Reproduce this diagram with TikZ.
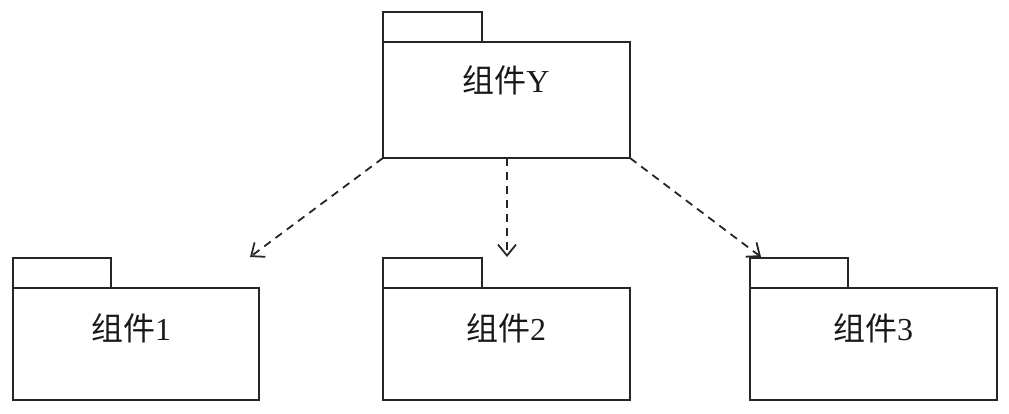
\documentclass[tikz,border=0pt]{standalone}
\usepackage{fontspec}
\setmainfont{Liberation Serif}
\newfontfamily\cjk{Noto Sans CJK SC}
\usetikzlibrary{arrows.meta}
\begin{document}
\begin{tikzpicture}[x=1pt,y=-1pt,
  pkgline/.style={draw=black!85,line width=1.8pt},
  pkglabel/.style={font=\fontsize{32}{34}\selectfont,text=black!90,inner sep=0pt,anchor=center},
  dep/.style={draw=black!85,line width=1.8pt,dash pattern=on 8pt off 6pt,
    -{Straight Barb[length=11pt,width=18pt,line width=1.8pt]}}]
\useasboundingbox (0,0) rectangle (1009,413);
% top package Y
\draw[pkgline] (383,42) rectangle (482,12);
\draw[pkgline] (383,42) rectangle (630,158);
\coordinate (yBL) at (383,158);
\coordinate (yBM) at (507,158);
\coordinate (yBR) at (630,158);
\node[pkglabel] (ly) at (506,80) {{\cjk 组件}Y};
% package 1
\draw[pkgline] (13,288) rectangle (111,258);
\draw[pkgline] (13,288) rectangle (259,400);
\coordinate (t1) at (250,257);
\node[pkglabel] (l1) at (131,328) {{\cjk 组件}1};
% package 2
\draw[pkgline] (383,288) rectangle (482,258);
\draw[pkgline] (383,288) rectangle (630,400);
\coordinate (t2) at (507,257);
\node[pkglabel] (l2) at (506,328) {{\cjk 组件}2};
% package 3
\draw[pkgline] (750,288) rectangle (848,258);
\draw[pkgline] (750,288) rectangle (997,400);
\coordinate (t3) at (761,257);
\node[pkglabel] (l3) at (873,328) {{\cjk 组件}3};
% dependencies
\draw[dep] (yBL) -- (t1);
\draw[dep] (yBM) -- (t2);
\draw[dep] (yBR) -- (t3);
\end{tikzpicture}
\end{document}
